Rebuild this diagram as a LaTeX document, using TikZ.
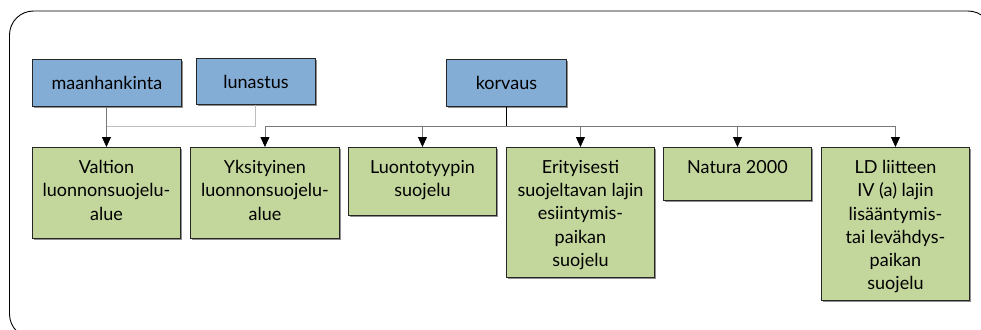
\documentclass[tikz,border=0pt]{standalone}
\usepackage{fontspec}
\setmainfont{Lato}
\usetikzlibrary{shadows,arrows.meta}
\definecolor{bluefill}{RGB}{132,173,214}
\definecolor{greenfill}{RGB}{195,214,155}
\definecolor{lightline}{RGB}{190,190,190}
\definecolor{midline}{RGB}{120,120,120}
\tikzset{
  bbox/.style={draw=black!85, line width=0.9pt, fill=bluefill, inner sep=0pt,
    drop shadow={shadow xshift=1.2pt, shadow yshift=-1.2pt, fill=black!55, opacity=0.8},
    font=\fontsize{18}{23.3}\selectfont},
  gbox/.style={draw=black!85, line width=0.9pt, fill=greenfill, inner sep=0pt,
    drop shadow={shadow xshift=1.2pt, shadow yshift=-1.2pt, fill=black!55, opacity=0.8}},
  gtext/.style={anchor=north, align=center, inner sep=0pt, font=\fontsize{18}{23.3}\selectfont},
  arr/.style={-{Triangle[width=9pt,length=10pt,color=black,fill=black]}, line width=0.8pt},
}
\newcommand{\gnode}[6]{% name, x1, y1, x2, y2, text
  \node[gbox, minimum width=#4pt-#2pt, minimum height=#5pt-#3pt, anchor=north west] (#1) at (#2pt,-#3pt) {};
  \node[gtext] (#1t) at ([yshift=-13pt]#1.north) {#6};
}
\begin{document}
\begin{tikzpicture}[x=1pt,y=1pt]
\useasboundingbox (0,0) rectangle (981,-329);
\draw[line width=0.9pt, rounded corners=24pt] (9.5,-11) rectangle (992,-338);

\node[bbox, minimum width=149pt, minimum height=47pt, anchor=north west] (maa) at (32,-59) {maanhankinta};
\node[bbox, minimum width=119pt, minimum height=46pt, anchor=north west] (lun) at (196,-58) {lunastus};
\node[bbox, minimum width=120pt, minimum height=47pt, anchor=north west] (kor) at (446,-59) {korvaus};

\gnode{val}{32}{147}{180}{238}{Valtion\\luonnonsuojelu-\\alue}
\gnode{yks}{190}{147}{339}{238}{Yksityinen\\luonnonsuojelu-\\alue}
\gnode{luo}{348}{147}{496}{215}{Luontotyypin\\suojelu}
\gnode{eri}{506}{147}{654}{277}{Erityisesti\\suojeltavan lajin\\esiintymis-\\paikan\\suojelu}
\gnode{nat}{663}{147}{811}{200}{Natura 2000}
\gnode{ld}{821}{147}{969}{300}{LD liitteen\\IV (a) lajin\\lisääntymis-\\tai levähdys-\\paikan\\suojelu}

\coordinate (jl) at (lun.south |- 0,-126);
\coordinate (jv) at (val.north |- 0,-126);
\coordinate (jk) at (506,-126);
\coordinate (jy) at (yks.north |- 0,-126);
\coordinate (jd) at (ld.north |- 0,-126);

\draw[lightline, line width=1pt] (lun.south) -- (jl) -- (jv);
\draw[midline, line width=0.9pt] (maa.south -| jv) -- (jv);
\draw[arr, midline] (jv) -- (val.north);

\draw[black, line width=1pt] (kor.south -| jk) -- (jk);
\draw[midline, line width=0.9pt] (jy) -- (jd);
\draw[arr, midline] (jy) -- (yks.north);
\draw[arr, midline] (luo.north |- jk) -- (luo.north);
\draw[arr, midline] (eri.north |- jk) -- (eri.north);
\draw[arr, midline] (nat.north |- jk) -- (nat.north);
\draw[arr, midline] (jd) -- (ld.north);
\end{tikzpicture}
\end{document}
